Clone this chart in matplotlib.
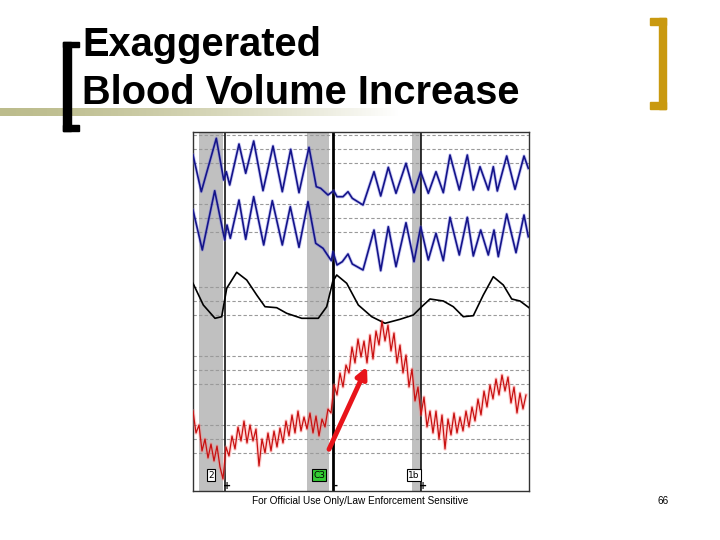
import numpy as np
import matplotlib
matplotlib.use("Agg")
import matplotlib.pyplot as plt
from matplotlib.patches import Rectangle

# time in seconds, trace values in chart units (0 = bottom of chart)
upper_t = [0, 0.83, 2.33, 3.07, 3.33, 3.67, 4.6, 5.27, 6.07, 7.0, 8.0, 8.93, 9.77, 10.6,
           11.6, 12.33, 12.77, 13.5, 14.07, 14.4, 15.0, 15.5, 15.93, 17.0, 18.1, 18.77,
           19.53, 20.3, 21.3, 22.1, 22.77, 23.53, 24.3, 25.03, 25.7, 26.63, 27.43, 28.03,
           28.7, 29.53, 30.03, 30.43, 31.37, 32.2, 33.1, 33.53]
upper_v = [336, 299.3, 352.7, 311, 319.3, 306, 347, 317.7, 350, 300.3, 345, 299.3, 341.7,
           298.3, 343.7, 304.3, 302.7, 296, 300.3, 294.3, 294.3, 299.3, 292.7, 286, 319.3,
           295, 323.7, 297.7, 327.7, 298.3, 319.3, 297.7, 319.3, 298.3, 336, 301, 336, 301,
           324.3, 301, 324.3, 300, 335, 301.7, 335, 322.7]

lower_t = [0, 0.93, 2.17, 3.17, 3.4, 3.73, 4.6, 5.27, 6.07, 7.07, 7.93, 8.93, 9.73, 10.6,
           11.5, 12.27, 13.0, 13.83, 14.0, 14.4, 14.93, 15.5, 15.93, 17.0, 18.1, 18.77,
           19.53, 20.3, 21.3, 22.1, 22.77, 23.53, 24.3, 25.03, 25.7, 26.63, 27.43, 28.03,
           28.77, 29.53, 30.1, 30.53, 31.37, 32.3, 33.1, 33.53]
lower_v = [281, 241, 300.3, 251, 266, 252.7, 291, 251.7, 294.3, 246, 290.3, 246, 284.3,
           243.7, 289.3, 247.7, 242.7, 230.3, 239.3, 226, 229.3, 237, 227, 221, 261, 220.3,
           264.3, 224.3, 268.3, 229.3, 264.3, 231, 257.7, 230.3, 273.7, 236, 273.7, 235,
           261, 236, 261, 234.3, 277, 238.3, 276, 254.3]

eda_t = [0, 1.03, 2.2, 2.87, 3.37, 4.37, 5.37, 6.37, 7.2, 8.37, 9.37, 10.87, 12.53, 13.37,
         13.97, 14.37, 15.37, 16.53, 17.87, 19.2, 20.7, 22.03, 22.87, 23.7, 25.03, 26.03,
         27.03, 28.03, 29.03, 30.03, 31.03, 31.87, 32.7, 33.6]
eda_v = [207.7, 186, 172.7, 174.3, 202.7, 218.7, 211, 196, 184.3, 183.3, 177.7, 172.7,
         172.7, 184.3, 209.3, 216, 207.7, 186, 174.3, 167.7, 171.7, 176, 184.3, 192, 190,
         184.3, 174.3, 175.3, 196, 214.3, 206, 192, 190, 183.3]

cardio_v = [80, 58, 66, 40, 52, 33, 47, 30, 45, 24,
            12, 44, 35, 55, 42, 64, 50, 70, 48, 66,
            50, 62, 25, 52, 38, 58, 40, 60, 44, 63,
            48, 70, 55, 76, 58, 80, 60, 74, 62, 78,
            58, 75, 55, 72, 64, 82, 78, 106, 96, 118,
            104, 126, 118, 144, 128, 152, 134, 150, 128, 156,
            132, 160, 146, 170, 150, 166, 140, 158, 128, 146,
            118, 136, 104, 122, 90, 104, 76, 94, 64, 80,
            58, 80, 52, 76, 42, 72, 56, 78, 58, 74,
            60, 80, 64, 84, 70, 92, 76, 100, 84, 106,
            92, 112, 96, 116, 100, 114, 88, 104, 78, 98, 82, 96]
cardio_t = np.linspace(0, 33.3, len(cardio_v))

grid_levels = [356, 342, 328, 287, 273, 259, 204, 190, 176, 135, 121, 107, 66, 52, 38]
question_bands = [(0.6, 3.0), (11.4, 13.6), (21.9, 22.8)]
question_marks = [3.2, 14.0, 22.8]
question_labels = ["2", "C3", "1b"]
question_label_t = [1.8, 12.6, 22.1]
question_signs = ["+", "-", "+"]
arrow_from = (13.6, 41.7)
arrow_to = (17.4, 124.3)

fig = plt.figure(figsize=(7.2, 5.4), dpi=100)

# olive rule under the title, fading out to the right
grad = np.ones((1, 400, 4))
grad[0, :, 0] = 0.74
grad[0, :, 1] = 0.74
grad[0, :, 2] = 0.55
grad[0, :, 3] = np.clip(1.0 - np.linspace(0, 1, 400) ** 1.5, 0, 1)
gax = fig.add_axes([0, 1 - 116 / 540, 400 / 720, 8 / 540])
gax.imshow(grad, aspect="auto")
gax.axis("off")

W, H = 720, 540
def frect(x0, y0, x1, y1, color):
    fig.patches.append(Rectangle((x0 / W, 1 - y1 / H), (x1 - x0) / W, (y1 - y0) / H,
                                 transform=fig.transFigure, color=color, zorder=5))

frect(63, 42, 70.5, 131, "black")
frect(63, 42, 79, 47, "black")
frect(63, 125, 79, 131, "black")
gold = "#C9990F"
frect(659, 18, 666, 109, gold)
frect(650, 18, 666, 25, gold)
frect(650, 102, 666, 109, gold)

fig.text(82 / W, 1 - 56 / H, "Exaggerated", fontsize=28.7, fontweight="bold",
         family="Liberation Sans", va="baseline")
fig.text(82 / W, 1 - 104 / H, "Blood Volume Increase", fontsize=28.7, fontweight="bold",
         family="Liberation Sans", va="baseline")

fig.text(360 / W, 1 - 501 / H, "For Official Use Only/Law Enforcement Sensitive",
         fontsize=7.2, family="Liberation Sans", ha="center", va="center")
fig.text(663 / W, 1 - 501 / H, "66", fontsize=7.2, family="Liberation Sans",
         ha="center", va="center")

ax = fig.add_axes([193 / W, 1 - 491 / H, 336 / W, 359 / H])
ax.set_xlim(0, 33.6)
ax.set_ylim(0, 359)
for a, b in question_bands:
    ax.axvspan(a, b, color="#C0C0C0", lw=0, zorder=0)
for y in grid_levels:
    ax.axhline(y, color="#9A9A9A", lw=0.8, ls=(0, (3, 2)), zorder=1)
for i, x in enumerate(question_marks):
    ax.axvline(x, color="black", lw=2.0 if i == 1 else 1.1, zorder=2)

for t, v in [(upper_t, upper_v), (lower_t, lower_v)]:
    ax.plot(t, v, color="#6A6AE0", lw=2.4, alpha=0.35, zorder=3, solid_joinstyle="round")
    ax.plot(t, v, color="#14148A", lw=1.2, zorder=4, solid_joinstyle="round")
ax.plot(eda_t, eda_v, color="black", lw=1.2, zorder=4, solid_joinstyle="round")
ax.plot(cardio_t, cardio_v, color="#FF8080", lw=2.6, alpha=0.35, zorder=3)
ax.plot(cardio_t, cardio_v, color="#C81010", lw=0.9, zorder=4)

ax.annotate("", xy=arrow_to, xytext=arrow_from, zorder=6,
            arrowprops=dict(arrowstyle="-|>", color="#E8141A", lw=3.5,
                            mutation_scale=16, shrinkA=0, shrinkB=0))

for lab, t in zip(question_labels, question_label_t):
    face = "#33CC33" if lab.startswith("C") else "white"
    ax.text(t, 16, lab, fontsize=6.5, family="DejaVu Sans", ha="center", va="center",
            zorder=7, bbox=dict(boxstyle="square,pad=0.15", fc=face, ec="black", lw=0.8))
for s, t in zip(question_signs, question_marks):
    ax.text(t + 0.25, 5, s, fontsize=7, fontweight="bold", ha="center", va="center",
            zorder=7, clip_on=False)

ax.set_xticks([])
ax.set_yticks([])
for sp in ax.spines.values():
    sp.set_color("#333333")
    sp.set_linewidth(1.0)

fig.savefig("out.png", dpi=100)
